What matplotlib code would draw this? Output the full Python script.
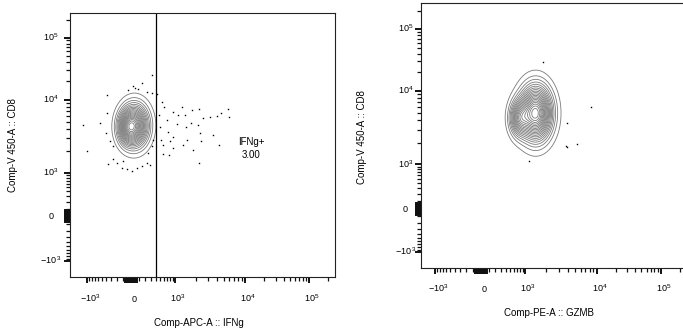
import numpy as np
import matplotlib
matplotlib.use('Agg')
import matplotlib.pyplot as plt
from matplotlib.ticker import FixedLocator, NullFormatter
from matplotlib.transforms import ScaledTranslation

plt.rcParams['font.family'] = ['Liberation Sans', 'DejaVu Sans']
plt.rcParams['mathtext.fontset'] = 'custom'
plt.rcParams['mathtext.rm'] = 'Liberation Sans'

# ------------------------------------------------------------------ data
x_title_left = 'Comp-APC-A :: IFNg'
x_title_right = 'Comp-PE-A :: GZMB'
y_title = 'Comp-V 450-A :: CD8'
gate_name = 'IFNg+'
gate_freq = '3.00'
gate_ifng = 400

major_ticks = [-1000, 0, 1000, 10000, 100000]
x_tick_labels = [r'$\mathregular{-10^3}$', '0', r'$\mathregular{10^3}$',
                 r'$\mathregular{10^4}$', r'$\mathregular{10^5}$']
y_tick_labels = [r'$\mathregular{-10^{\,3}}$', '0', r'$\mathregular{10^3}$',
                 r'$\mathregular{10^4}$', r'$\mathregular{10^5}$']

# main cell populations (centre values, spread in display units, weight)
left_pop_x = [46, -53]
left_pop_y = [4460, 4130]
left_pop_sx = [8.7, 6.0]
left_pop_sy = [13.2, 10.0]
left_pop_w = [1.0, 0.4]

right_pop_x = [1420, 759]
right_pop_y = [5010, 4280]
right_pop_sx = [10.0, 6.0]
right_pop_sy = [17.0, 11.0]
right_pop_w = [1.0, 0.45]

# outlier events (IFNg, CD8)
left_dots_x = [310, 154, 22, 53, -35, -382, 97, 223, 310, 413,
               -1190, -990, -541, -398, -316, -368, -256, -350, -200, -125,
               -57, 9, 76, 146, 223, 279, -103, 249, 310, 341,
               -256, 534, 599, 475, 681, 930, 1250, 1400, 1790, 2220,
               3160, 4020, 4640, 5720, 5970, 1730, 2150, 1470, 1060, 737,
               930, 1500, 2280, 3530, 2410, 4250, 1310, 930, 775, 799,
               1830, 2200, 579, 562, 1110, 2540, 492, 510]
left_dots_y = [24700, 18500, 16700, 15100, 14000, 12000, 14500, 13300, 12600, 12300,
               4490, 2030, 4860, 3570, 2710, 6620, 2320, 1320, 1390, 1190,
               1130, 1070, 1190, 1250, 1390, 1280, 1460, 1890, 2320, 2850,
               1540, 9290, 7960, 6160, 5280, 6820, 7960, 6160, 7190, 7480,
               5850, 5980, 6490, 7350, 5740, 4770, 4530, 4300, 4670, 3690,
               3160, 2850, 3510, 3330, 2710, 2440, 2440, 2210, 1800, 2710,
               2050, 1390, 2440, 1850, 6160, 5570, 4300, 2850]
# outlier events (GZMB, CD8)
right_dots_x = [1800, 8330, 3890, 3730, 3850, 5360, 1140]
right_dots_y = [29700, 6110, 3740, 1820, 1720, 1890, 1120]

# ------------------------------------------------------------------ scales
C = 300.0


def make_scale(vals, pos):
    u = np.arcsinh(np.asarray(vals, float) / C)
    pos = np.asarray(pos, float)
    s_lo = (pos[1] - pos[0]) / (u[1] - u[0])
    s_hi = (pos[-1] - pos[-2]) / (u[-1] - u[-2])

    def fwd(v):
        uu = np.arcsinh(np.asarray(v, float) / C)
        out = np.interp(uu, u, pos)
        out = np.where(uu < u[0], pos[0] + (uu - u[0]) * s_lo, out)
        out = np.where(uu > u[-1], pos[-1] + (uu - u[-1]) * s_hi, out)
        return out

    def inv(p):
        p = np.asarray(p, float)
        uu = np.interp(p, pos, u)
        uu = np.where(p < pos[0], u[0] + (p - pos[0]) / s_lo, uu)
        uu = np.where(p > pos[-1], u[-1] + (p - pos[-1]) / s_hi, uu)
        return C * np.sinh(uu)

    return fwd, inv


zero_block = [float(k) for k in range(-80, 81, 10) if k != 0]
minor_ticks = ([float(s * k) for s in (-1, 1) for k in range(100, 1000, 100)] +
               [float(m) * 10.0 ** e for e in (3, 4, 5) for m in range(2, 10)])

fig = plt.figure(figsize=(6.83, 3.32), dpi=100)
FS = 6.5


def setup_axes(rect, xv, xp, yv, yp, ylab_off):
    ax = fig.add_axes(rect)
    fx, ix = make_scale(xv, xp)
    fy, iy = make_scale(yv, yp)
    ax.set_xscale('function', functions=(fx, ix))
    ax.set_yscale('function', functions=(fy, iy))
    ax.set_xlim(xv[0], xv[-1])
    ax.set_ylim(yv[0], yv[-1])
    for axis, lim in ((ax.xaxis, (xv[0], xv[-1])), (ax.yaxis, (yv[0], yv[-1]))):
        axis.remove_overlapping_locs = False
        axis.set_major_locator(FixedLocator(sorted([float(t) for t in major_ticks] + zero_block)))
        axis.set_minor_locator(FixedLocator([t for t in minor_ticks if lim[0] < t < lim[1]]))
        axis.set_major_formatter(NullFormatter())
        axis.set_minor_formatter(NullFormatter())
    ax.tick_params(which='major', direction='out', length=4.3, width=1.4, color='#111111')
    ax.tick_params(which='minor', direction='out', length=3.0, width=0.9, color='#111111')
    for sp in ax.spines.values():
        sp.set_linewidth(0.8)
        sp.set_color('#222222')
    # tick labels
    trx = ax.get_xaxis_transform() + ScaledTranslation(3.0 / 100, -24.5 / 100, fig.dpi_scale_trans)
    for v, s in zip(major_ticks, x_tick_labels):
        ax.text(v, 0, s, transform=trx, ha='center', va='baseline', fontsize=FS, clip_on=False)
    tr_y = ax.get_yaxis_transform() + ScaledTranslation(-ylab_off / 100, -3.3 / 100, fig.dpi_scale_trans)
    for v, s in zip(major_ticks, y_tick_labels):
        ax.text(0, v, s, transform=tr_y, ha='center', va='baseline', fontsize=FS, clip_on=False)
    return ax, fx, fy, ix, iy


def draw_contours(ax, fx, fy, ix, iy, W, H, px, py, sx, sy, w):
    gx = ix(np.linspace(0, W, 500))
    gy = iy(np.linspace(0, H, 500))
    GX, GY = np.meshgrid(gx, gy)
    PX, PY = fx(GX), fy(GY)
    Z = np.zeros_like(GX)
    for cx, cy, a, b, k in zip(px, py, sx, sy, w):
        Z += k * np.exp(-0.5 * ((PX - fx(cx)) / a) ** 2 - 0.5 * ((PY - fy(cy)) / b) ** 2)
    levels = Z.max() * np.linspace(0.04, 0.96, 20)
    ax.contour(GX, GY, Z, levels=levels, colors='#7a7a7a', linewidths=0.6)


# ---- left panel
lx_vals = [-2150, -1000, 0, 1000, 1e4, 1e5, 262144]
lx_pos = [0, 17, 61, 105, 175, 239, 265]
ly_vals = [-2050, -1000, 0, 1000, 1e4, 1e5, 262144]
ly_pos = [0, 16, 61, 104, 177.5, 239.5, 264]
axL, fxL, fyL, ixL, iyL = setup_axes([70 / 683, 55 / 332, 265 / 683, 264 / 332],
                                     lx_vals, lx_pos, ly_vals, ly_pos, 19.3)
draw_contours(axL, fxL, fyL, ixL, iyL, 265, 264, left_pop_x, left_pop_y,
              left_pop_sx, left_pop_sy, left_pop_w)
axL.plot(left_dots_x, left_dots_y, 's', ms=1.0, mew=0, color='black')
axL.axvline(gate_ifng, color='black', lw=0.9)
axL.text(0.683, 0.511, gate_name, transform=axL.transAxes, ha='center', va='center', fontsize=7)
axL.text(0.683, 0.462, gate_freq, transform=axL.transAxes, ha='center', va='center', fontsize=7)

# ---- right panel
rx_vals = [-1830, -1000, 0, 1000, 1e4, 1e5, 262144]
rx_pos = [0, 14, 60, 104, 175.7, 239.7, 266.5]
ry_vals = [-2150, -1000, 0, 1000, 1e4, 1e5, 262144]
ry_pos = [0, 16, 59, 103.7, 177, 239, 264.7]
axR, fxR, fyR, ixR, iyR = setup_axes([421 / 683, 64 / 332, 266.5 / 683, 264.7 / 332],
                                     rx_vals, rx_pos, ry_vals, ry_pos, 15.5)
draw_contours(axR, fxR, fyR, ixR, iyR, 266.5, 264.7, right_pop_x, right_pop_y,
              right_pop_sx, right_pop_sy, right_pop_w)
axR.plot(right_dots_x, right_dots_y, 's', ms=1.0, mew=0, color='black')

# ---- axis titles
fig.text(199 / 683, 1 - 322.7 / 332, x_title_left, ha='center', va='center', fontsize=7)
fig.text(13 / 683, 1 - 145 / 332, y_title, ha='center', va='center', rotation=90, fontsize=7)
fig.text(549 / 683, 1 - 313 / 332, x_title_right, ha='center', va='center', fontsize=7)
fig.text(361.7 / 683, 1 - 137 / 332, y_title, ha='center', va='center', rotation=90, fontsize=7)

fig.savefig('out.png', dpi=100)
